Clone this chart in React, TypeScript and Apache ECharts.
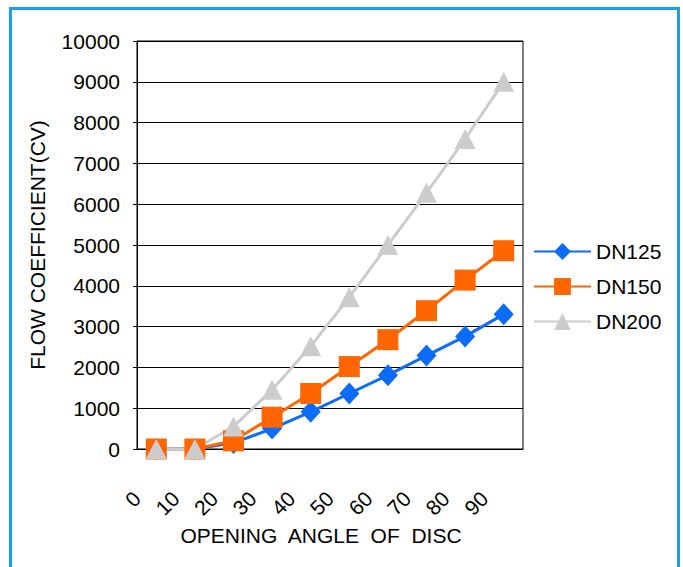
import React, { useEffect, useRef } from "react";
import * as echarts from "echarts";

const categories = ["0", "10", "20", "30", "40", "50", "60", "70", "80", "90"];
const tickLabels = ["0", "10", "20", "30", "40", "50", "60", "70", "80", "90", ""];
const dn125 = [0, 0, 150, 500, 910, 1360, 1810, 2290, 2760, 3300];
const dn150 = [0, 0, 200, 780, 1360, 2020, 2680, 3390, 4140, 4860];
const dn200 = [0, 0, 550, 1450, 2520, 3720, 5000, 6280, 7600, 9000];
const seriesNames = ["DN125", "DN150", "DN200"];

const FONT = "'Liberation Sans', Arial, sans-serif";
const FS = 21;

export default function App() {
  const ref = useRef<HTMLDivElement>(null);
  useEffect(() => {
    if (!ref.current) return;
    const chart = echarts.init(ref.current, null, { renderer: "svg" });
    chart.setOption({
      animation: false,
      backgroundColor: "#ffffff",
      textStyle: { fontFamily: FONT, color: "#000" },
      graphic: [
        {
          type: "rect",
          shape: { x: 10.5, y: 8.5, width: 668, height: 620 },
          style: { fill: "none", stroke: "#19a0e6", lineWidth: 3 },
          silent: true,
          z: 100,
        },
      ],
      grid: {
        left: 137,
        top: 41,
        right: 160,
        bottom: 118,
        show: true,
        borderColor: "#000",
        borderWidth: 1,
        backgroundColor: "#fff",
      },
      legend: {
        orient: "vertical",
        left: 533,
        top: 241,
        padding: 0,
        itemWidth: 57,
        itemHeight: 21,
        itemGap: 14,
        textStyle: { fontSize: FS, color: "#000", fontFamily: FONT },
        data: seriesNames,
      },
      xAxis: [
        {
          type: "category",
          data: categories,
          boundaryGap: true,
          position: "bottom",
          axisLine: { show: true, lineStyle: { color: "#000", width: 1 } },
          axisTick: { show: false },
          axisLabel: { show: false },
          splitLine: { show: false },
          name: "OPENING  ANGLE  OF  DISC",
          nameLocation: "middle",
          nameGap: 76,
          nameTextStyle: { fontSize: FS, color: "#000", fontFamily: FONT, padding: [0, 18, 0, 0] },
        },
        {
          type: "category",
          data: tickLabels,
          boundaryGap: false,
          position: "bottom",
          axisLine: { show: false },
          axisTick: { show: false },
          splitLine: { show: false },
          axisLabel: {
            interval: 0,
            rotate: 45,
            margin: 46,
            fontSize: FS,
            color: "#000",
            fontFamily: FONT,
          },
        },
      ],
      yAxis: {
        type: "value",
        min: 0,
        max: 10000,
        interval: 1000,
        axisLine: { show: true, lineStyle: { color: "#000", width: 1 } },
        axisTick: { show: true, length: 4, lineStyle: { color: "#000" } },
        axisLabel: {
          fontSize: FS,
          color: "#000",
          margin: 17,
          fontFamily: FONT,
          formatter: (v: number) => String(v),
        },
        splitLine: { show: true, lineStyle: { color: "#000", width: 1 } },
        name: "FLOW COEFFICIENT(CV)",
        nameLocation: "middle",
        nameGap: 89,
        nameTextStyle: { fontSize: FS, color: "#000", fontFamily: FONT },
      },
      series: [
        {
          name: seriesNames[0],
          type: "line",
          xAxisIndex: 0,
          data: dn125,
          symbol: "diamond",
          symbolSize: [20, 22],
          itemStyle: { color: "#0a6cf8" },
          lineStyle: { color: "#0a6cf8", width: 3 },
        },
        {
          name: seriesNames[1],
          type: "line",
          xAxisIndex: 0,
          data: dn150,
          symbol: "rect",
          symbolSize: 21,
          itemStyle: { color: "#ff6600" },
          lineStyle: { color: "#ff6600", width: 3 },
        },
        {
          name: seriesNames[2],
          type: "line",
          xAxisIndex: 0,
          data: dn200,
          symbol: "triangle",
          symbolSize: [21, 20],
          itemStyle: { color: "#cccccc" },
          lineStyle: { color: "#cccccc", width: 3 },
        },
      ],
    });
    return () => chart.dispose();
  }, []);
  return (
    <div
      ref={ref}
      style={{ position: "fixed", left: 0, top: 0, width: 683, height: 567 }}
    />
  );
}
